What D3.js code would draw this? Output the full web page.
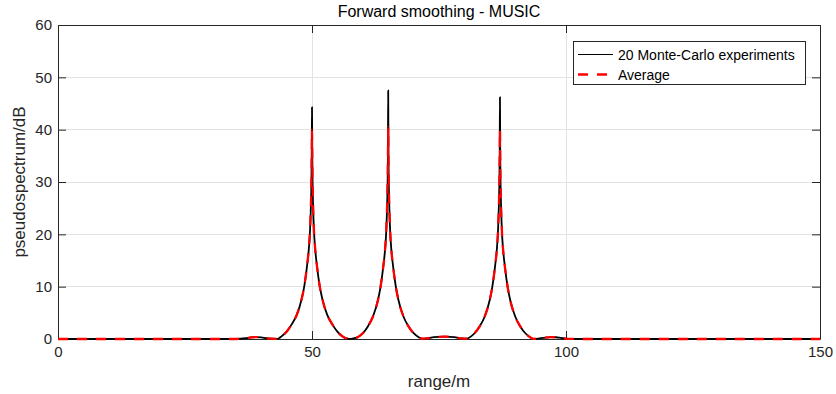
<!DOCTYPE html>
<html><head><meta charset="utf-8">
<script src="https://cdn.jsdelivr.net/npm/d3@7"></script>
<style>
body{margin:0;background:#fff;}
svg{display:block;font-family:"Liberation Sans",Arial,Helvetica,sans-serif;}
</style></head>
<body><svg id="chart" width="836" height="394"></svg>
<script>
// ---- data ----
const titleText = "Forward smoothing - MUSIC";
const xLabelText = "range/m";
const yLabelText = "pseudospectrum/dB";
const seriesNames = ["20 Monte-Carlo experiments", "Average"];
const xTicks = [0, 50, 100, 150];
const yTicks = [0, 10, 20, 30, 40, 50, 60];
const rangeM = [0,5,10,15,20,25,30,34,36,37,38,39,40,41,42,43,43.5,44,45,46,47,48,48.5,49,49.4,49.6,49.8,49.9,49.95,50,50.05,50.1,50.2,50.4,50.6,51,51.5,52,53,54,55,56,57,57.5,58,59,60,61,62,63,63.5,64,64.4,64.6,64.8,64.9,64.95,65,65.05,65.1,65.2,65.4,65.6,66,66.5,67,68,69,70,71,71.7,72.5,74,76,78,79.5,80.4,81,82,83,84,85,85.5,86,86.4,86.6,86.8,86.9,86.95,87,87.05,87.1,87.2,87.4,87.6,88,88.5,89,90,91,92,93,93.6,94.5,95.5,97,98,99,100,101,104,110,120,130,140,150];
const experimentDb = [0,0,0,0,0,0,0,0,0.05,0.15,0.3,0.35,0.3,0.15,0.05,0.02,0.15,0.5,1.4,2.8,4.6,7.8,10.2,13.8,17.5,20.5,26,31,36,44.3,36,31,26,20.5,17.5,13.8,10.2,7.8,4.6,2.8,1.4,0.5,0.08,0.02,0.08,0.35,1.1,2.4,4.3,7.5,10,13.6,17.3,20.3,26,31,36,47.5,36,31,26,20.3,17.3,13.6,10,7.5,4.3,2.4,1.1,0.35,0.05,0.1,0.35,0.45,0.35,0.1,0.05,0.3,1.1,2.4,4.3,7.5,10,13.6,17.3,20.3,26,31,36,46.2,36,31,26,20.3,17.3,13.6,10,7.5,4.3,2.4,1.1,0.3,0.03,0.08,0.2,0.35,0.33,0.2,0.06,0.01,0,0,0,0,0,0];
const averageDb = [0,0,0,0,0,0,0,0,0.05,0.15,0.3,0.35,0.3,0.15,0.05,0.02,0.15,0.5,1.4,2.8,4.6,7.8,10.2,13.8,17.5,20.5,26,30.5,34.5,40,34.5,30.5,26,20.5,17.5,13.8,10.2,7.8,4.6,2.8,1.4,0.5,0.08,0.02,0.08,0.35,1.1,2.4,4.3,7.5,10,13.6,17.3,20.3,26,30.5,34.5,40.5,34.5,30.5,26,20.3,17.3,13.6,10,7.5,4.3,2.4,1.1,0.35,0.05,0.1,0.35,0.45,0.35,0.1,0.05,0.3,1.1,2.4,4.3,7.5,10,13.6,17.3,20.3,26,30.5,34.5,40,34.5,30.5,26,20.3,17.3,13.6,10,7.5,4.3,2.4,1.1,0.3,0.03,0.08,0.2,0.35,0.33,0.2,0.06,0.01,0,0,0,0,0,0];

// ---- layout ----
const svg = d3.select("#chart");
const L = 58, R = 820, T = 25, B = 339;
const ink = "#262626";
const x = d3.scaleLinear().domain([0, 150]).range([L, R]);
const y = d3.scaleLinear().domain([0, 60]).range([B, T]);

// grid
const grid = svg.append("g");
grid.selectAll(".gx").data(xTicks.filter(t => t > 0 && t < 150)).join("line")
  .attr("x1", d => x(d)).attr("x2", d => x(d)).attr("y1", T).attr("y2", B)
  .attr("stroke", "#e3e3e3").attr("stroke-width", 1).attr("shape-rendering", "crispEdges");
grid.selectAll(".gy").data(yTicks.filter(t => t > 0 && t < 60)).join("line")
  .attr("x1", L).attr("x2", R).attr("y1", d => y(d)).attr("y2", d => y(d))
  .attr("stroke", "#e3e3e3").attr("stroke-width", 1).attr("shape-rendering", "crispEdges");

// axes
function styleAxis(g) {
  g.select(".domain").attr("stroke", ink).attr("stroke-width", 1);
  g.selectAll(".tick line").attr("stroke", ink);
  g.selectAll(".tick text").attr("fill", ink).attr("font-size", 15);
  g.attr("font-family", null);
}
svg.append("g").attr("transform", `translate(0,${B})`)
  .call(d3.axisBottom(x).tickValues(xTicks).tickSize(-8).tickPadding(7).tickSizeOuter(0))
  .call(styleAxis);
svg.append("g").attr("transform", `translate(0,${T})`)
  .call(d3.axisTop(x).tickValues(xTicks).tickSize(-8).tickSizeOuter(0).tickFormat(""))
  .call(styleAxis);
svg.append("g").attr("transform", `translate(${L},0)`)
  .call(d3.axisLeft(y).tickValues(yTicks).tickSize(-8).tickPadding(6).tickSizeOuter(0))
  .call(styleAxis);
svg.append("g").attr("transform", `translate(${R},0)`)
  .call(d3.axisRight(y).tickValues(yTicks).tickSize(-8).tickSizeOuter(0).tickFormat(""))
  .call(styleAxis);

// data lines
const pts = (vals) => rangeM.map((r, i) => [r, vals[i]]);
const line = d3.line().x(d => x(d[0])).y(d => y(d[1])).curve(d3.curveMonotoneX);
svg.append("path").datum(pts(experimentDb)).attr("d", line)
  .attr("fill", "none").attr("stroke", "#000").attr("stroke-width", 1.8).attr("stroke-linejoin", "round");
svg.append("path").datum(pts(averageDb)).attr("d", line)
  .attr("fill", "none").attr("stroke", "#ff0000").attr("stroke-width", 2.3)
  .attr("stroke-dasharray", "10,9");

// texts
svg.append("text").attr("x", (L + R) / 2).attr("y", 17).attr("text-anchor", "middle")
  .attr("font-size", 16).attr("fill", "#000").text(titleText);
svg.append("text").attr("x", (L + R) / 2).attr("y", 387).attr("text-anchor", "middle")
  .attr("font-size", 17).attr("fill", ink).text(xLabelText);
svg.append("text").attr("transform", `translate(25,${(T + B) / 2}) rotate(-90)`)
  .attr("text-anchor", "middle").attr("font-size", 17).attr("fill", ink).text(yLabelText);

// legend
const lg = svg.append("g");
lg.append("rect").attr("x", 573.5).attr("y", 41.5).attr("width", 232).attr("height", 43)
  .attr("fill", "#fff").attr("stroke", ink).attr("stroke-width", 1);
const rows = [
  {name: seriesNames[0], color: "#000", w: 1, dash: null, yy: 54.5},
  {name: seriesNames[1], color: "#ff0000", w: 2.3, dash: "10,9", yy: 74.5}
];
rows.forEach(r => {
  lg.append("line").attr("x1", 578).attr("x2", 613).attr("y1", r.yy).attr("y2", r.yy)
    .attr("stroke", r.color).attr("stroke-width", r.w).attr("stroke-dasharray", r.dash);
  lg.append("text").attr("x", 618).attr("y", r.yy + 5).attr("font-size", 14).attr("fill", "#000").text(r.name);
});
</script></body></html>
